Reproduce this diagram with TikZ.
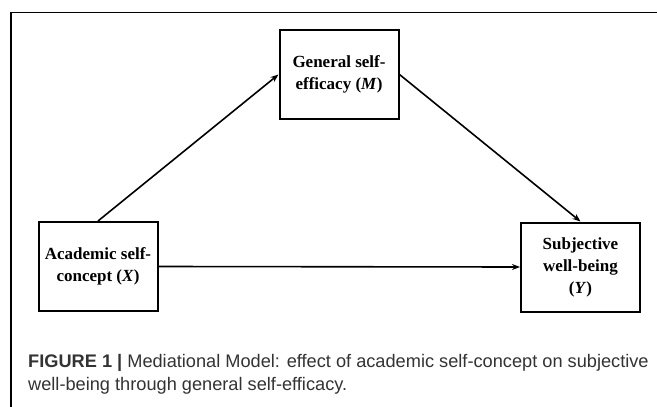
\documentclass[tikz,border=0pt]{standalone}
\usepackage{fontspec}
\setmainfont{Liberation Serif}
\setsansfont{Liberation Sans}
\usetikzlibrary{arrows.meta}
\definecolor{captiongray}{HTML}{333333}
\begin{document}
\begin{tikzpicture}[x=1pt,y=-1pt,
  box/.style={draw,line width=2pt,minimum width=119pt,minimum height=89pt,inner sep=0pt,align=center,
    font=\fontsize{17}{22}\selectfont\bfseries},
  conn/.style={line width=1.6pt,-{Stealth[length=8pt,width=6pt]}},
  frameline/.style={line width=1.2pt},
  captext/.style={anchor=base west,inner sep=0pt,text=captiongray,font=\sffamily\fontsize{18.2}{22}\selectfont}]
\useasboundingbox (0,0) rectangle (657,407);
\draw[frameline] (11,407) -- (11,12.5) -- (657,12.5);
\node[box] (M) at (339,74.5) {General self-\\efficacy (\textit{M})};
\node[box] (X) at (98,266.5) {Academic self-\\concept (\textit{X})};
\node[box] (Y) at (580.5,267) {Subjective\\well-being\\(\textit{Y})};
\draw[conn] (X.north) -- (M.west);
\draw[conn] (M.east) -- (Y.north);
\draw[conn] (X.east) -- (Y.west);
\node[captext] (cap1) at (28,367.5) {\textbf{FIGURE 1 |} Mediational Model: effect of academic self-concept on subjective};
\node[captext] (cap2) at (28,390.5) {well-being through general self-efficacy.};
\end{tikzpicture}
\end{document}
